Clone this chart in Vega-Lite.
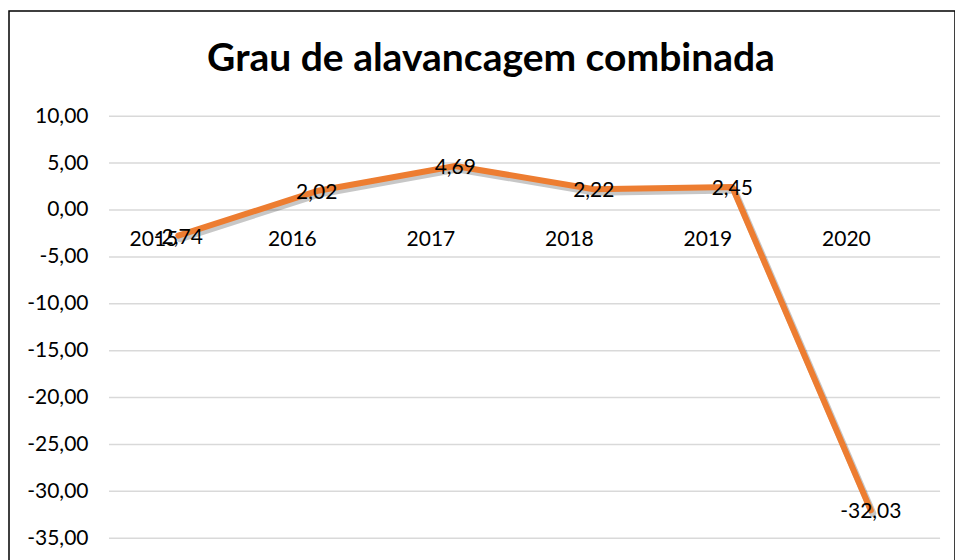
{
  "$schema": "https://vega.github.io/schema/vega-lite/v6.json",
  "width": 946,
  "height": 556,
  "autosize": {"type": "none"},
  "padding": {"left": 9, "top": 11, "right": 0, "bottom": 0},
  "background": "white",
  "title": {
    "text": "Grau de alavancagem combinada",
    "font": "Lato",
    "fontSize": 39,
    "fontWeight": "bold",
    "color": "#000000",
    "anchor": "middle",
    "frame": "group",
    "baseline": "alphabetic",
    "offset": -99,
    "dx": 9
  },
  "config": {
    "view": {"stroke": "#000000", "strokeWidth": 1.5},
    "font": "Lato",
    "locale": {
      "number": {"decimal": ",", "thousands": ".", "grouping": [3], "currency": ["", ""], "minus": "-"}
    }
  },
  "datasets": {
    "grau": [
      {"ano": "2015", "valor": -2.74},
      {"ano": "2016", "valor": 2.02},
      {"ano": "2017", "valor": 4.69},
      {"ano": "2018", "valor": 2.22},
      {"ano": "2019", "valor": 2.45},
      {"ano": "2020", "valor": -32.03}
    ],
    "grade": [
      {"v": 10}, {"v": 5}, {"v": 0}, {"v": -5}, {"v": -10},
      {"v": -15}, {"v": -20}, {"v": -25}, {"v": -30}, {"v": -35}
    ]
  },
  "layer": [
    {
      "data": {"name": "grade"},
      "mark": {"type": "rule", "color": "#d9d9d9", "strokeWidth": 1.5},
      "encoding": {
        "y": {"field": "v", "type": "quantitative", "title": null,
              "scale": {"domain": [-38.07, 21.22], "nice": false, "zero": false}},
        "x": {"datum": "2015", "type": "nominal", "bandPosition": 0,
              "scale": {"type": "band", "domain": ["2015", "2016", "2017", "2018", "2019", "2020"], "paddingInner": 0, "paddingOuter": 0.415, "align": 0.87}},
        "x2": {"datum": "2020", "bandPosition": 1}
      }
    },
    {
      "data": {"name": "grau"},
      "mark": {"type": "line", "color": "#000000", "opacity": 0.22, "strokeWidth": 7, "xOffset": 2, "yOffset": 3, "strokeJoin": "round", "strokeCap": "round"},
      "encoding": {
        "x": {"field": "ano", "type": "nominal", "bandPosition": 0.5},
        "y": {"field": "valor", "type": "quantitative"}
      }
    },
    {
      "data": {"name": "grau"},
      "mark": {"type": "line", "color": "#ED7D31", "strokeWidth": 6, "strokeJoin": "round", "strokeCap": "round"},
      "encoding": {
        "x": {"field": "ano", "type": "nominal", "bandPosition": 0.5, "title": null,
              "scale": {"type": "band", "domain": ["2015", "2016", "2017", "2018", "2019", "2020"], "paddingInner": 0, "paddingOuter": 0.415, "align": 0.87},
              "axis": {"orient": "bottom", "offset": -357, "domain": false, "ticks": false, "grid": false,
                       "labelPadding": 29, "labelFont": "Lato", "labelFontSize": 21, "labelColor": "#000000", "labelAngle": 0}},
        "y": {"field": "valor", "type": "quantitative", "title": null,
              "scale": {"domain": [-38.07, 21.22], "nice": false, "zero": false},
              "axis": {"values": [10, 5, 0, -5, -10, -15, -20, -25, -30, -35], "format": ".2f",
                       "offset": -100, "labelPadding": 21, "domain": false, "ticks": false, "grid": false,
                       "labelFont": "Lato", "labelFontSize": 21, "labelColor": "#000000"}}
      }
    },
    {
      "data": {"name": "grau"},
      "mark": {"type": "text", "font": "Lato", "fontSize": 21, "color": "#000000", "baseline": "middle", "align": "center", "dy": 2},
      "encoding": {
        "x": {"field": "ano", "type": "nominal", "bandPosition": 0.5},
        "y": {"field": "valor", "type": "quantitative"},
        "text": {"field": "valor", "type": "quantitative", "format": ".2f"}
      }
    }
  ]
}
